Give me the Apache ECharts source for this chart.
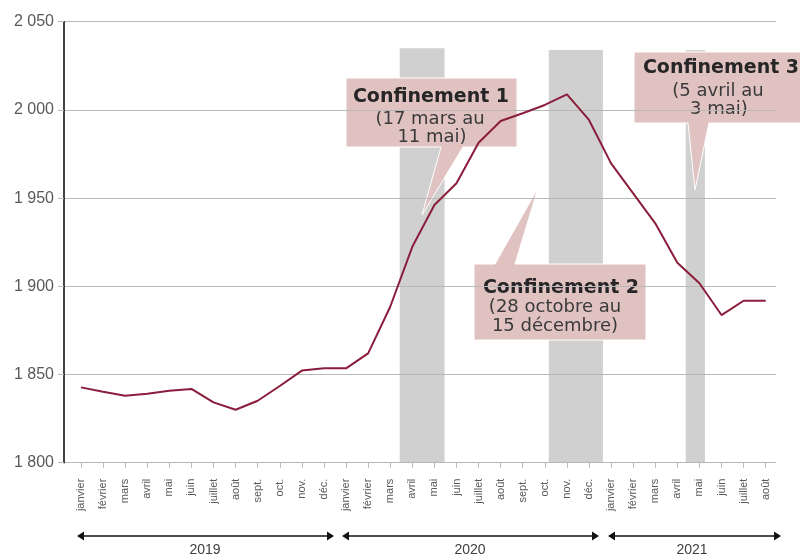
<!DOCTYPE html>
<html>
<head>
<meta charset="utf-8">
<script src="https://cdn.jsdelivr.net/npm/echarts@6/dist/echarts.min.js"></script>
<style>
html, body { margin: 0; padding: 0; background: #fff; }
#chart { width: 800px; height: 555px; }
</style>
</head>
<body>
<div id="chart"></div>
<script>
// mois (janvier 2019 -> août 2021)
const months = [
    'janvier', 'février', 'mars', 'avril', 'mai', 'juin', 'juillet', 'août', 'sept.', 'oct.', 'nov.', 'déc.',
    'janvier', 'février', 'mars', 'avril', 'mai', 'juin', 'juillet', 'août', 'sept.', 'oct.', 'nov.', 'déc.',
    'janvier', 'février', 'mars', 'avril', 'mai', 'juin', 'juillet', 'août'
];
const values = [
    1842.7, 1840.2, 1838.0, 1839.1, 1840.8, 1841.8, 1834.2, 1830.0, 1835.1, 1843.5, 1852.2, 1853.5,
    1853.5, 1862.0, 1888.4, 1922.4, 1946.1, 1958.4, 1981.4, 1993.7, 1998.1, 2002.8, 2008.8, 1994.3,
    1969.7, 1952.7, 1935.7, 1913.4, 1901.7, 1883.7, 1891.8, 1891.8
];
// périodes de confinement (en index de mois)
const bandStart = [14.43, 21.18, 27.38];
const bandEnd = [16.46, 23.63, 28.25];
const bandTop = [2035, 2034, 2034];

const yMin = 1800;
const yMax = 2050;
const yStep = 50;

const years = ['2019', '2020', '2021'];

const fmtNum = (v) => String(v).replace(/\B(?=(\d{3})+(?!\d))/g, ' ');

const lineData = values.map((v, i) => [i, v]);
const bandData = bandStart.map((s, i) => [s, bandEnd[i], bandTop[i]]);

const pink = '#e0c2c1';
const txtDark = '#262626';
const txtSub = '#3a3a3a';

function callout(points, lines) {
    const els = [{
        type: 'polygon',
        z: -1,
        shape: { points: points },
        style: { fill: pink, stroke: '#fff', lineWidth: 1 }
    }];
    lines.forEach((l) => {
        els.push({
            type: 'text',
            z: -1,
            x: l[1],
            y: l[2],
            style: {
                text: l[0],
                fill: l[3] ? txtDark : txtSub,
                font: (l[3] ? 'bold 19px' : '18px') + ' "DejaVu Sans"',
                align: 'center',
                verticalAlign: 'middle'
            }
        });
    });
    return els;
}

function yearArrow(x0, x1, label, cx) {
    const y = 536;
    return [
        { type: 'line', shape: { x1: x0 + 5, y1: y, x2: x1 - 5, y2: y }, style: { stroke: '#111', lineWidth: 1.5 } },
        { type: 'polygon', shape: { points: [[x0, y], [x0 + 7, y - 4.5], [x0 + 7, y + 4.5]] }, style: { fill: '#111' } },
        { type: 'polygon', shape: { points: [[x1, y], [x1 - 7, y - 4.5], [x1 - 7, y + 4.5]] }, style: { fill: '#111' } },
        { type: 'text', x: cx, y: 543, style: { text: label, fill: '#404040', font: '14px "Liberation Sans"', align: 'center', verticalAlign: 'top' } }
    ];
}

let graphics = [];
graphics = graphics.concat(callout(
    [[346, 78], [517, 78], [517, 147], [463, 147], [422, 215], [441, 147], [346, 147]],
    [['Confinement 1', 431, 97, true], ['(17 mars au', 430, 119], ['11 mai)', 432, 137]]
));
graphics = graphics.concat(callout(
    [[474, 264], [495, 264], [538, 188], [515, 264], [646, 264], [646, 340], [474, 340]],
    [['Confinement 2', 561, 288, true], ['(28 octobre au', 555, 307], ['15 décembre)', 555, 326.5]]
));
graphics = graphics.concat(callout(
    [[634, 52], [812, 52], [812, 123], [709, 123], [695, 190], [688, 123], [634, 123]],
    [['Confinement 3', 721, 68, true], ['(5 avril au', 718, 91], ['3 mai)', 719, 109.5]]
));
graphics = graphics.concat(yearArrow(77, 334, years[0], 205));
graphics = graphics.concat(yearArrow(342, 599, years[1], 470));
graphics = graphics.concat(yearArrow(608, 781, years[2], 692));

const option = {
    animation: false,
    backgroundColor: '#fff',
    grid: [
        { left: 64, right: 24, top: 21.7, bottom: 92.3 },
        { left: 81, right: 34.3, top: 21.7, bottom: 92.3 }
    ],
    xAxis: [
        { gridIndex: 0, type: 'value', min: 0, max: 1, show: false },
        {
            gridIndex: 1,
            type: 'value',
            min: 0,
            max: months.length - 1,
            interval: 1,
            axisLine: { show: false },
            axisTick: { show: true, length: 5, lineStyle: { color: '#b8b8b8' } },
            splitLine: { show: false },
            axisLabel: {
                rotate: 90,
                margin: 16,
                fontFamily: 'Liberation Sans',
                fontSize: 11,
                color: '#595959',
                formatter: (v) => months[v] || ''
            }
        }
    ],
    yAxis: [
        {
            gridIndex: 0,
            type: 'value',
            min: yMin,
            max: yMax,
            interval: yStep,
            axisLine: { show: true, lineStyle: { color: '#000', width: 1.5 } },
            axisTick: { show: true, length: 6, lineStyle: { color: '#b8b8b8' } },
            splitLine: { show: true, lineStyle: { color: '#b8b8b8', width: 1 } },
            axisLabel: {
                margin: 10,
                fontFamily: 'Liberation Sans',
                fontSize: 16,
                color: '#595959',
                formatter: fmtNum
            }
        },
        { gridIndex: 1, type: 'value', min: yMin, max: yMax, show: false }
    ],
    graphic: { elements: graphics },
    series: [
        {
            type: 'custom',
            xAxisIndex: 1,
            yAxisIndex: 1,
            z: -2,
            silent: true,
            encode: { x: [0, 1], y: 2 },
            data: bandData,
            renderItem: (params, api) => {
                const p0 = api.coord([api.value(0), api.value(2)]);
                const p1 = api.coord([api.value(1), yMin]);
                return {
                    type: 'rect',
                    shape: { x: p0[0], y: p0[1], width: p1[0] - p0[0], height: p1[1] - p0[1] },
                    style: { fill: '#d0d0d0' }
                };
            }
        },
        {
            type: 'line',
            xAxisIndex: 1,
            yAxisIndex: 1,
            z: 3,
            data: lineData,
            showSymbol: false,
            symbol: 'none',
            lineStyle: { color: '#8b1d3c', width: 2 }
        }
    ]
};

const chart = echarts.init(document.getElementById('chart'));
chart.setOption(option);
</script>
</body>
</html>
